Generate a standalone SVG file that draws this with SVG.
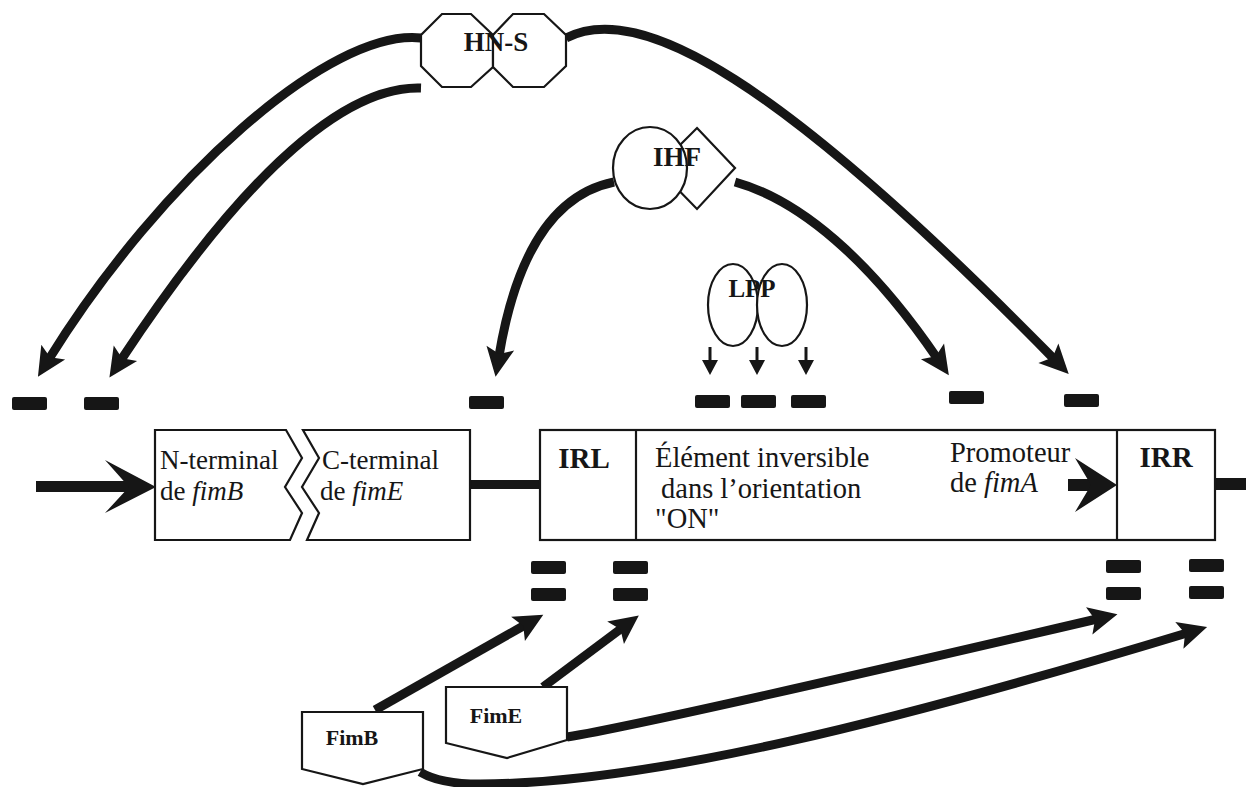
<svg xmlns="http://www.w3.org/2000/svg" width="1246" height="787" viewBox="0 0 1246 787">
<defs>
<style>
.ln{fill:#fff;stroke:#161616;stroke-width:2.2}
.conn{fill:none;stroke:#161616;stroke-width:9;marker-end:url(#ah)}
.site{fill:#161616}
.bar{fill:#161616}
.t{font-family:"Liberation Serif","Times New Roman",serif;font-size:27px;fill:#161616}
.t2{font-family:"Liberation Serif","Times New Roman",serif;font-size:28.5px;fill:#161616}
.b{font-family:"Liberation Serif","Times New Roman",serif;font-weight:bold;fill:#161616}
</style>
<marker id="ah" markerUnits="userSpaceOnUse" viewBox="-10 -15 33 30" markerWidth="33" markerHeight="30" refX="0" refY="0" orient="auto">
<path d="M21,0 L-8,-14 L-2,0 L-8,14 Z" fill="#161616"/>
</marker>
<rect id="s" width="35" height="13" rx="2"/>
</defs>
<rect width="1246" height="787" fill="#fff"/>

<g id="dna">
<rect class="bar" x="36" y="481" width="95" height="11"/>
<polygon class="bar" points="156,487 105,460 129,487 105,513"/>
<rect class="bar" x="470" y="480" width="71" height="9"/>
<rect class="bar" x="1214" y="478" width="32" height="12"/>
</g>

<g id="gene-fimB">
<polygon class="ln" points="155,430 286,430 302,458 285,487 302,513 290,540 155,540"/>
<text class="t" x="160" y="469">N-terminal</text>
<text class="t" x="160" y="500">de <tspan font-style="italic">fimB</tspan></text>
</g>

<g id="gene-fimE">
<polygon class="ln" points="303,430 470,430 470,540 307,540 319,513 302,487 319,458"/>
<text class="t" x="322" y="469">C-terminal</text>
<text class="t" x="320" y="500">de <tspan font-style="italic">fimE</tspan></text>
</g>

<g id="fim-switch">
<rect class="ln" x="540" y="430" width="675" height="110"/>
<line class="ln" x1="636" y1="430" x2="636" y2="540"/>
<line class="ln" x1="1117" y1="430" x2="1117" y2="540"/>
<text class="b" x="584" y="468" font-size="29" text-anchor="middle">IRL</text>
<text class="b" x="1166" y="467" font-size="29" text-anchor="middle">IRR</text>
<text class="t2" x="655" y="467">Élément inversible</text>
<text class="t2" x="661" y="498">dans l’orientation</text>
<text class="t2" x="655" y="528">"ON"</text>
<text class="t2" x="950" y="462">Promoteur</text>
<text class="t2" x="950" y="492">de <tspan font-style="italic">fimA</tspan></text>
<rect class="bar" x="1068" y="479" width="24" height="12"/>
<polygon class="bar" points="1117,485 1075,458 1091,485 1075,512"/>
</g>

<g id="sites">
<use href="#s" class="site" x="12" y="397"/>
<use href="#s" class="site" x="84" y="397"/>
<use href="#s" class="site" x="469" y="396"/>
<use href="#s" class="site" x="695" y="395"/>
<use href="#s" class="site" x="741" y="395"/>
<use href="#s" class="site" x="791" y="395"/>
<use href="#s" class="site" x="949" y="391"/>
<use href="#s" class="site" x="1064" y="394"/>
<use href="#s" class="site" x="531" y="561"/>
<use href="#s" class="site" x="531" y="588"/>
<use href="#s" class="site" x="613" y="561"/>
<use href="#s" class="site" x="613" y="588"/>
<use href="#s" class="site" x="1106" y="560"/>
<use href="#s" class="site" x="1106" y="587"/>
<use href="#s" class="site" x="1189" y="559"/>
<use href="#s" class="site" x="1189" y="586"/>
</g>

<g id="connectors">
<path class="conn" d="M421,38 C330,28 160,180 49,359"/>
<path class="conn" d="M421,88 C330,85 220,210 121,360"/>
<path class="conn" d="M566,38 C640,0 780,80 1054,359"/>
<path class="conn" d="M614,182 C550,195 515,260 499,356"/>
<path class="conn" d="M735,182 C800,200 870,260 937,358"/>
<path class="conn" d="M375,710 L525,625"/>
<path class="conn" d="M543,687 L622,628"/>
<path class="conn" d="M567,737 C640,725 900,665 1097,619"/>
<path class="conn" d="M420,772 Q440,784 480,784 C650,784 900,720 1187,633"/>
<g fill="#161616" stroke="#161616">
<line x1="710" y1="347" x2="710" y2="362" stroke-width="3"/>
<polygon points="702,360 718,360 710,375" stroke="none"/>
<line x1="757" y1="347" x2="757" y2="362" stroke-width="3"/>
<polygon points="749,360 765,360 757,375" stroke="none"/>
<line x1="806" y1="347" x2="806" y2="362" stroke-width="3"/>
<polygon points="798,360 814,360 806,375" stroke="none"/>
</g>
</g>

<g id="hns">
<polygon class="ln" points="442,14 471,14 493,35 493,67 471,87 442,87 421,66 421,35"/>
<polygon class="ln" points="513,14 544,14 566,35 566,66 544,87 513,87 493,67 493,35"/>
<text class="b" x="496" y="51" font-size="27" text-anchor="middle">HN-S</text>
</g>

<g id="ihf">
<polygon class="ln" points="697,128 735,168 697,209 657,168"/>
<ellipse class="ln" cx="650" cy="168" rx="37" ry="41"/>
<text class="b" x="677" y="166" font-size="27" text-anchor="middle">IHF</text>
</g>

<g id="lpp">
<ellipse class="ln" cx="733" cy="305" rx="25" ry="41" fill="none"/>
<ellipse class="ln" cx="782" cy="305" rx="25" ry="41" fill="none"/>
<text class="b" x="752" y="297" font-size="25" text-anchor="middle">LPP</text>
</g>

<g id="fimB">
<polygon class="ln" points="302,712 423,712 423,769 363,784 302,769"/>
<text class="b" x="352" y="745" font-size="22" text-anchor="middle">FimB</text>
</g>

<g id="fimE">
<polygon class="ln" points="446,687 567,687 567,740 507,758 446,743"/>
<text class="b" x="496" y="723" font-size="22" text-anchor="middle">FimE</text>
</g>
</svg>
